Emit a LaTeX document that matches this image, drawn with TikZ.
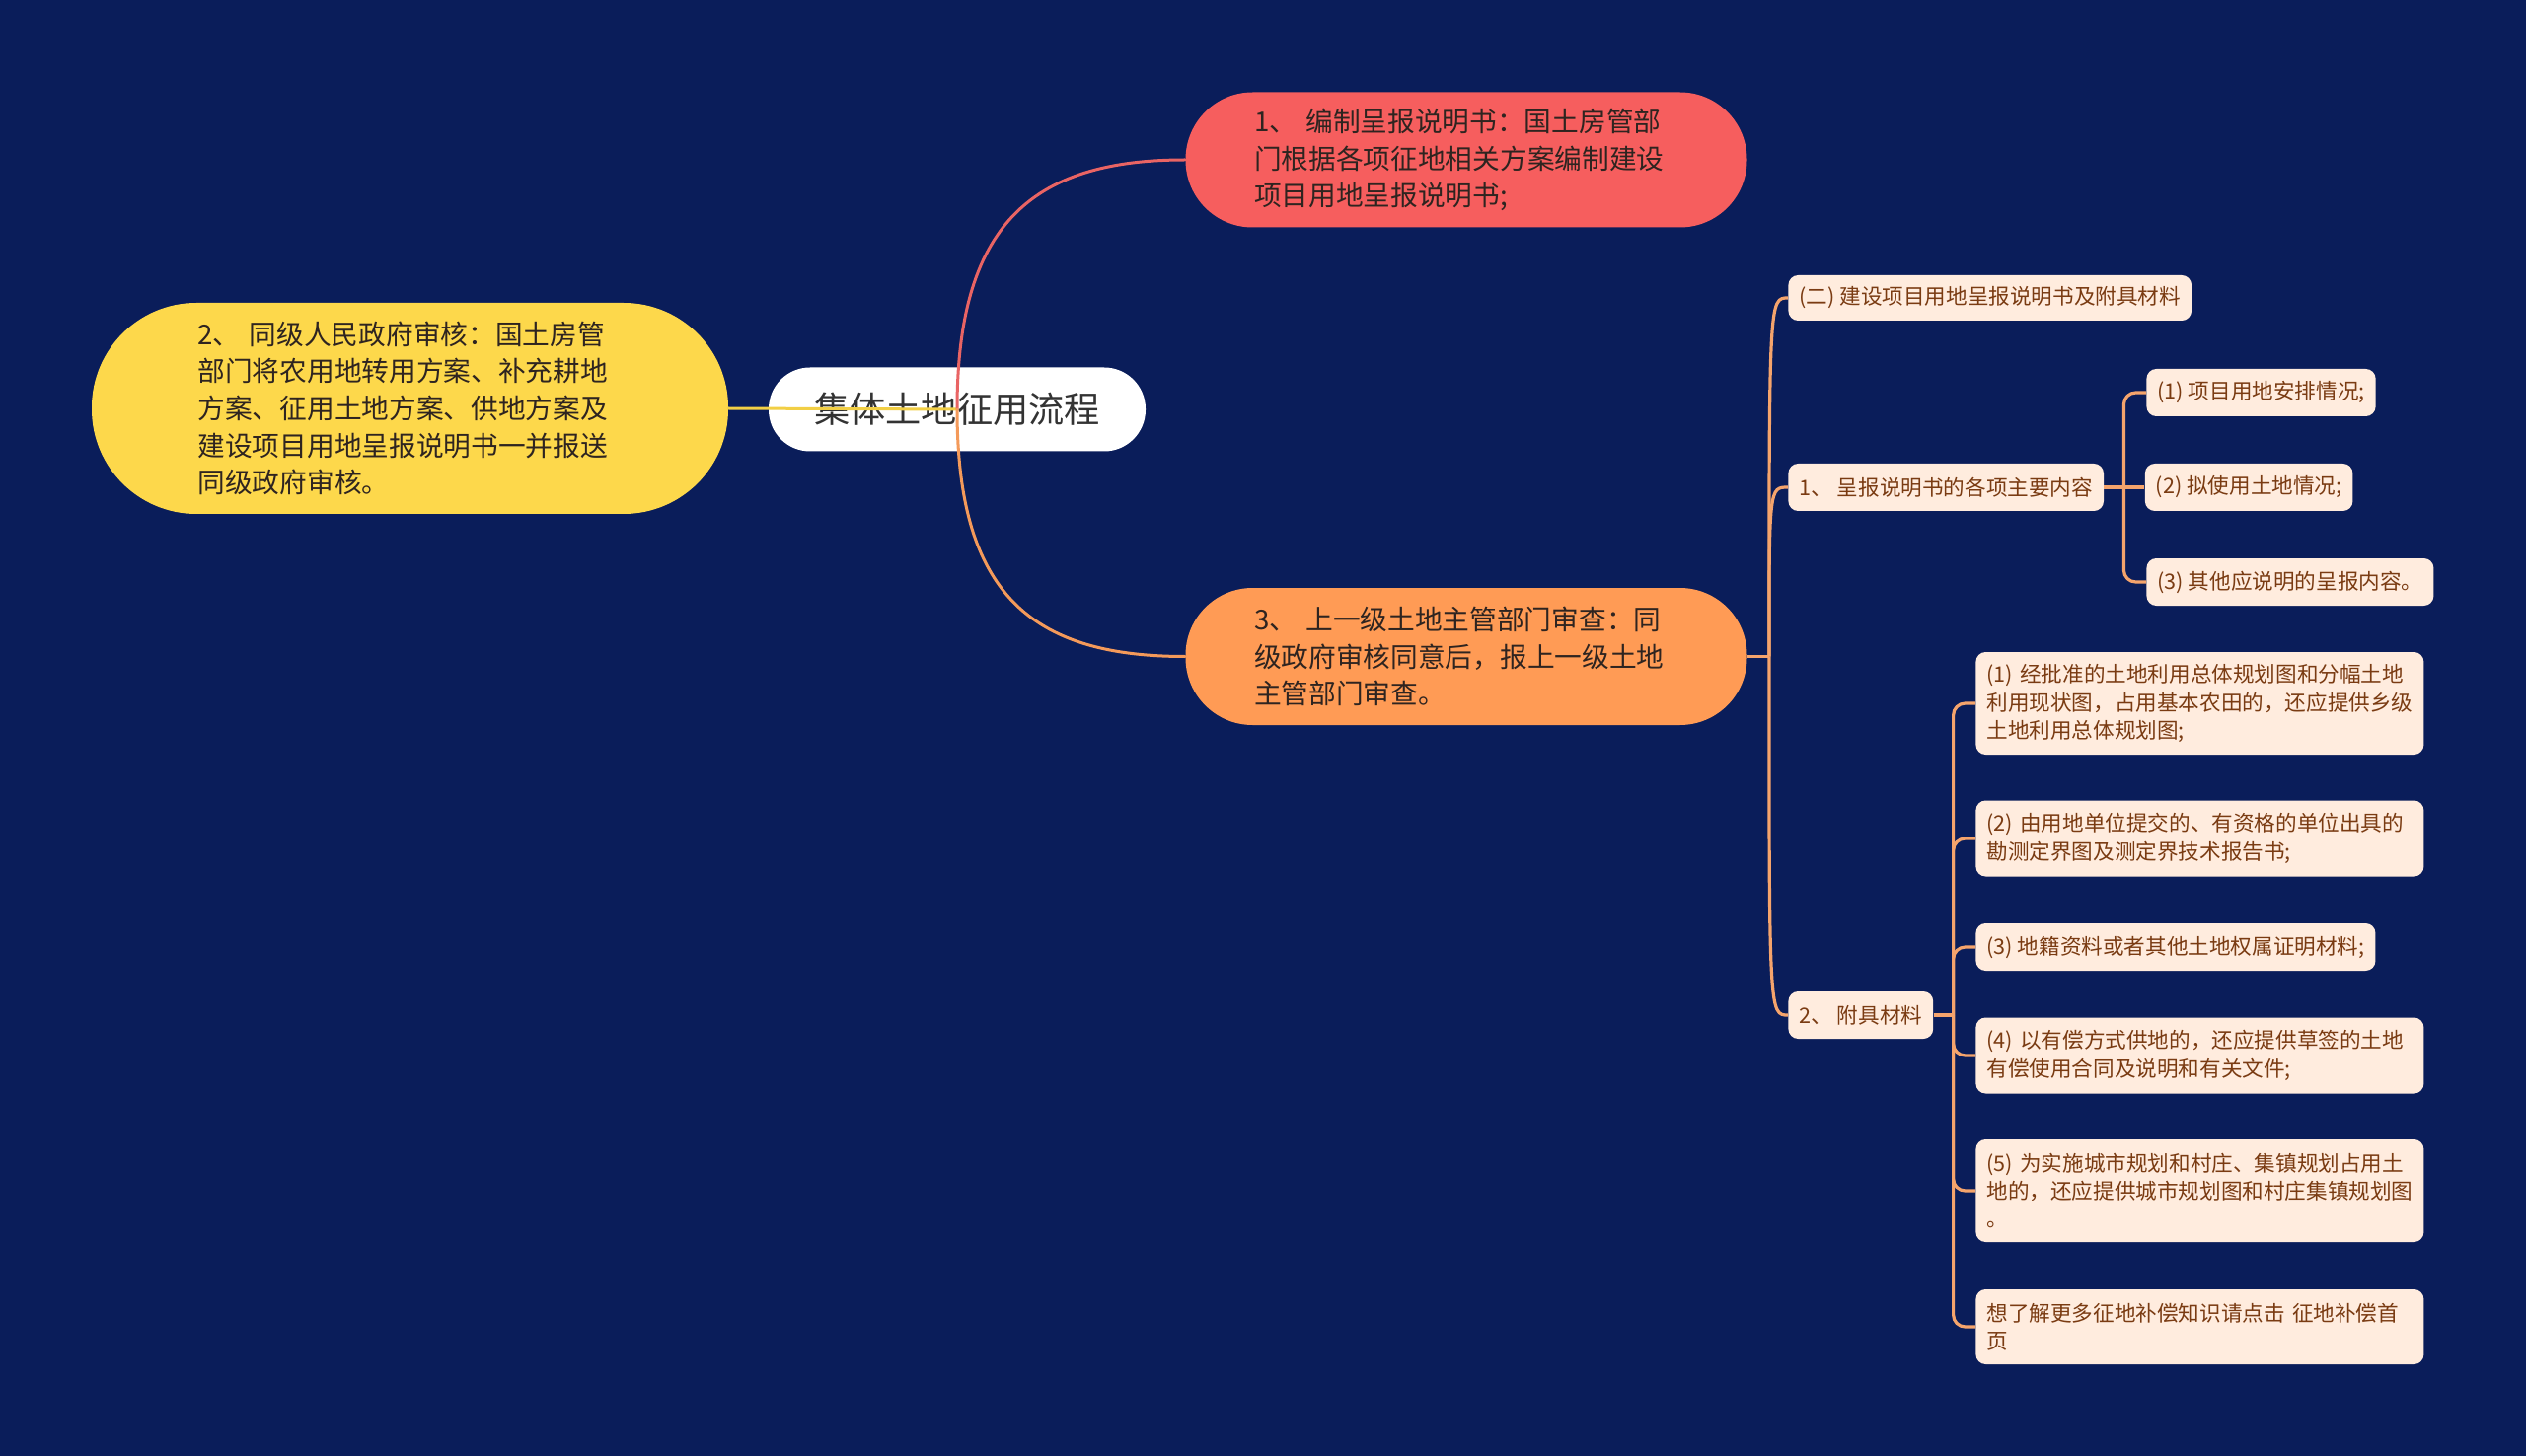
\documentclass[tikz,border=0pt]{standalone}
\usepackage{fontspec}
\setmainfont{Noto Sans CJK SC}
\usepackage{tikz}
\usetikzlibrary{calc, positioning}
\usepackage{xcolor}
\definecolor{Backdrop}{HTML}{0A1D5A}
\definecolor{RootFill}{HTML}{FFFFFF}
\definecolor{RootText}{HTML}{333333}
\definecolor{CoralRed}{HTML}{F65E5E}
\definecolor{CoralLink}{HTML}{E96464}
\definecolor{SunYellow}{HTML}{FDD84B}
\definecolor{SunLink}{HTML}{F2CF45}
\definecolor{Apricot}{HTML}{FF9B55}
\definecolor{ApricotLink}{HTML}{F49A5A}
\definecolor{DarkInk}{HTML}{2E2420}
\definecolor{LeafFill}{HTML}{FFECDE}
\definecolor{LeafText}{HTML}{7A3B12}
\definecolor{LeafLink}{HTML}{F5A46C}
\tikzset{%
  root_pill/.style={%
    rectangle,%
    rounded corners=21pt,%
    fill=RootFill,%
    text=RootText,%
    minimum width=191pt,%
    minimum height=42.5pt,%
    inner sep=0pt,%
    font={\fontsize{18.1pt}{22pt}\selectfont},%
  },
  topic_pill/.style={%
    rectangle,%
    rounded corners=34pt,%
    text=DarkInk,%
    minimum width=284.5pt,%
    minimum height=68.5pt,%
    text width=215pt,%
    inner sep=0pt,%
    align=left,%
    font={\fontsize{13.85pt}{18.8pt}\selectfont},%
  },
  leaf_box/.style={%
    rectangle,%
    rounded corners=5pt,%
    fill=LeafFill,%
    text=LeafText,%
    inner xsep=5.5pt,%
    inner ysep=0pt,%
    minimum height=24pt,%
    anchor=west,%
    align=left,%
    font={\fontsize{10.8pt}{14.15pt}\selectfont},%
  },
  leaf_wide/.style={%
    leaf_box,%
    text width=216pt,%
  },
  root_link/.style={%
    line width=1.5pt,%
    line cap=round,%
  },
  leaf_path/.style={%
    color=LeafLink,%
    line width=1.6pt,%
    line join=round,%
  },
}
\begin{document}
\begin{tikzpicture}[x=0.5pt, y=0.5pt]

    \fill [Backdrop] (0,0) rectangle (2560,-1476);

    \node [root_pill] (Root) at (970,-415) {集体土地征用流程};

    \node [topic_pill, fill=CoralRed] (StepOne) at (1486,-162) {%
      1、 编制呈报说明书：国土房管部\\
      门根据各项征地相关方案编制建设\\
      项目用地呈报说明书;%
    };
    \node [topic_pill, fill=SunYellow, rounded corners=53pt,
      minimum width=322.5pt, minimum height=107pt] (StepTwo) at (415.5,-414) {%
      2、 同级人民政府审核：国土房管\\
      部门将农用地转用方案、补充耕地\\
      方案、征用土地方案、供地方案及\\
      建设项目用地呈报说明书一并报送\\
      同级政府审核。%
    };
    \node [topic_pill, fill=Apricot, minimum height=69.5pt] (StepThree) at (1486,-665.5) {%
      3、 上一级土地主管部门审查：同\\
      级政府审核同意后，报上一级土地\\
      主管部门审查。%
    };

    \node [leaf_box, minimum height=23pt] (Materials) at (1812,-302) {%
      (二) 建设项目用地呈报说明书及附具材料%
    };
    \node [leaf_box] (Contents) at (1812,-494) {1、 呈报说明书的各项主要内容};
    \node [leaf_box, right=20.5pt of Contents] (ContentB) {(2) 拟使用土地情况;};
    \node [leaf_box] (ContentA) at (2175,-398) {(1) 项目用地安排情况;};
    \node [leaf_box] (ContentC) at (2175,-590) {(3) 其他应说明的呈报内容。};
    \node [leaf_box] (Attached) at (1812,-1029) {2、 附具材料};

    \node [leaf_wide, minimum height=52pt] (AttachA) at (2002,-713) {%
      (1) 经批准的土地利用总体规划图和分幅土地\\
      利用现状图，占用基本农田的，还应提供乡级\\
      土地利用总体规划图;%
    };
    \node [leaf_wide, minimum height=38.5pt] (AttachB) at (2002,-850) {%
      (2) 由用地单位提交的、有资格的单位出具的\\
      勘测定界图及测定界技术报告书;%
    };
    \node [leaf_box] (AttachC) at (2002,-960) {(3) 地籍资料或者其他土地权属证明材料;};
    \node [leaf_wide, minimum height=38.5pt] (AttachD) at (2002,-1070) {%
      (4) 以有偿方式供地的，还应提供草签的土地\\
      有偿使用合同及说明和有关文件;%
    };
    \node [leaf_wide, minimum height=52pt] (AttachE) at (2002,-1207) {%
      (5) 为实施城市规划和村庄、集镇规划占用土\\
      地的，还应提供城市规划图和村庄集镇规划图\\
      。%
    };
    \node [leaf_wide, minimum height=38pt] (AttachF) at (2002,-1345) {%
      想了解更多征地补偿知识请点击 征地补偿首\\
      页%
    };

    % links from the root
    \draw [root_link, SunLink]
      (Root.center)
      --
      (StepTwo.east);
    \draw [root_link, CoralLink]
      (Root.center)
      .. controls +(0,186) and +(-157,0) ..
      (StepOne.west);
    \draw [root_link, ApricotLink]
      (Root.center)
      .. controls +(0,-186) and +(-157,0) ..
      (StepThree.west);

    % branches of step three
    \coordinate (StepThreeFork) at ($(StepThree.east) + (22,0)$);
    \draw [leaf_path]
      (StepThree.east) -- (StepThreeFork);
    \foreach \leaf in {Materials, Contents, Attached} {
      \draw [leaf_path]
        (StepThreeFork)
        .. controls (StepThreeFork |- \leaf.west) ..
        (\leaf.west);
    }

    \coordinate (ContentsFork) at ($(Contents.east) + (20,0)$);
    \draw [leaf_path]
      (Contents.east) -- (ContentB.west);
    \foreach \leaf in {ContentA, ContentC} {
      \draw [leaf_path, rounded corners=6pt]
        (ContentsFork) |- (\leaf.west);
    }

    \coordinate (AttachedFork) at ($(Attached.east) + (20,0)$);
    \draw [leaf_path]
      (Attached.east) -- (AttachedFork);
    \foreach \leaf in {AttachA, AttachB, AttachC, AttachD, AttachE, AttachF} {
      \draw [leaf_path, rounded corners=6pt]
        (AttachedFork) |- (\leaf.west);
    }
\end{tikzpicture}
\end{document}
